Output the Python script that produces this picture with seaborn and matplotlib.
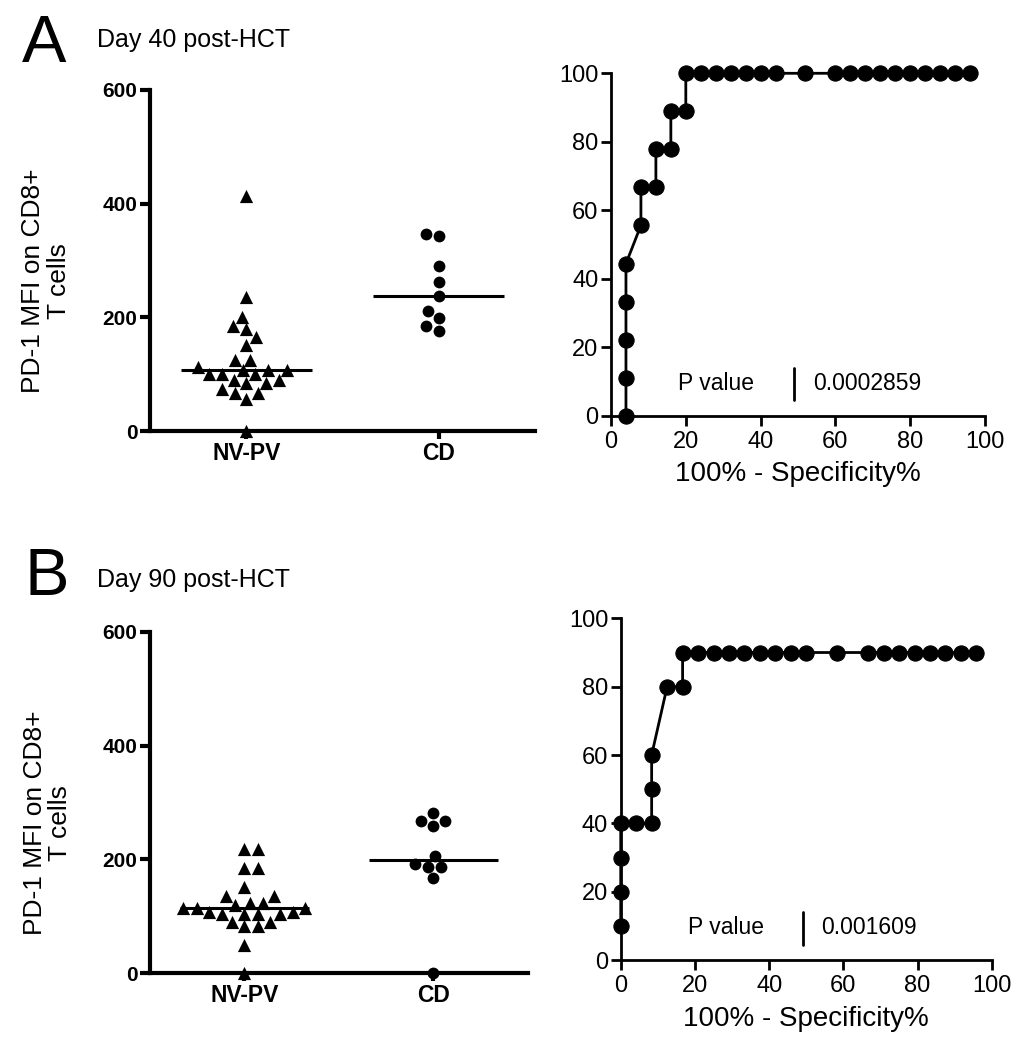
import matplotlib
matplotlib.use("Agg")
import matplotlib.pyplot as plt
import seaborn as sns
import pandas as pd
import numpy as np

# PD-1 MFI values
nvpv_d40 = [414, 236, 201, 184, 180, 165, 151, 125, 125, 113, 107, 107, 107,
            100, 100, 100, 90, 90, 84, 84, 74, 67, 67, 56, 0]
cd_d40 = [346, 343, 291, 263, 238, 211, 198, 184, 176]
nvpv_d90 = [219, 219, 185, 185, 152, 136, 136, 124, 124, 120, 114, 114, 114,
            108, 108, 104, 104, 104, 104, 90, 90, 82, 82, 49, 0]
cd_d90 = [282, 268, 268, 259, 206, 192, 187, 187, 167, 0]
groups = ['NV-PV', 'CD']

# ROC curves (100% - specificity, sensitivity)
roc_x_d40 = [4, 4, 4, 4, 4, 8, 8, 12, 12, 16, 16, 20, 20, 24, 28, 32, 36, 40, 44,
             52, 60, 64, 68, 72, 76, 80, 84, 88, 92, 96]
roc_y_d40 = [0, 11.1, 22.2, 33.3, 44.4, 55.6, 66.7, 66.7, 77.8, 77.8, 88.9, 88.9,
             100, 100, 100, 100, 100, 100, 100, 100, 100, 100, 100, 100, 100, 100,
             100, 100, 100, 100]
roc_x_d90 = [0, 0, 0, 0, 4.17, 8.33, 8.33, 8.33, 12.5, 16.67, 16.67, 20.83, 25,
             29.17, 33.33, 37.5, 41.67, 45.83, 50, 58.33, 66.67, 70.83, 75, 79.17,
             83.33, 87.5, 91.67, 95.83]
roc_y_d90 = [10, 20, 30, 40, 40, 40, 50, 60, 80, 80, 90, 90, 90, 90, 90, 90, 90,
             90, 90, 90, 90, 90, 90, 90, 90, 90, 90, 90]
pvals = ['0.0002859', '0.001609']

sns.set_style('white')
plt.rcParams['font.family'] = ['Liberation Sans', 'DejaVu Sans']
plt.rcParams.update({'text.color': 'black', 'axes.labelcolor': 'black',
                     'xtick.color': 'black', 'ytick.color': 'black',
                     'axes.edgecolor': 'black'})

fig = plt.figure(figsize=(10.25, 10.5), dpi=100)
swarms = []  # (collection, final marker size)


def dot_panel(ax, nvpv, cd):
    for name, vals, mk, ms in [('NV-PV', nvpv, '^', 9.5), ('CD', cd, 'o', 8.5)]:
        df = pd.DataFrame({'group': [name] * len(vals), 'mfi': vals})
        n0 = len(ax.collections)
        sns.swarmplot(data=df, x='group', y='mfi', order=groups, marker=mk,
                      color='black', size=9, ax=ax, clip_on=False, zorder=5)
        for pc in ax.collections[n0:]:
            swarms.append((pc, ms))
        i = groups.index(name)
        ax.hlines(np.median(vals), i - 0.34, i + 0.34, color='black', lw=2.2, zorder=4)
    ax.set_xlim(-0.5, 1.5)
    ax.set_ylim(0, 600)
    ax.set_yticks([0, 200, 400, 600])
    sns.despine(ax=ax)
    for s in ['left', 'bottom']:
        ax.spines[s].set_linewidth(3)
    ax.tick_params(axis='y', length=7, width=3, labelsize=15, pad=2, left=True)
    ax.tick_params(axis='x', length=6, width=3, labelsize=16.5, pad=2, bottom=True)
    for t in ax.get_xticklabels() + ax.get_yticklabels():
        t.set_fontweight('bold')
    ax.set_xlabel('')
    ax.set_ylabel('PD-1 MFI on CD8+\nT cells', fontsize=19, linespacing=1.1)
    ax.yaxis.set_label_coords(-0.205, 0.44)


def roc_panel(ax, rx, ry, p):
    sns.lineplot(x=rx, y=ry, sort=False, estimator=None, marker='o', markersize=11,
                 color='black', linewidth=2, markeredgecolor='black', ax=ax,
                 clip_on=False, zorder=5)
    ax.set_xlim(0, 100)
    ax.set_ylim(0, 100)
    ax.set_xticks(range(0, 101, 20))
    ax.set_yticks(range(0, 101, 20))
    sns.despine(ax=ax)
    for s in ['left', 'bottom']:
        ax.spines[s].set_linewidth(2)
    ax.tick_params(length=7, width=2, labelsize=17, pad=4, left=True, bottom=True)
    ax.tick_params(axis='y', pad=2)
    ax.set_xlabel('100% - Specificity%', fontsize=20, labelpad=6)
    ax.set_ylabel('')
    ax.text(18, 9.5, 'P value', fontsize=16.5, va='center')
    ax.plot([49, 49], [4.5, 14], color='black', lw=2)
    ax.text(54, 9.5, p, fontsize=16.5, va='center')


ax1 = fig.add_axes([0.1463, 0.5895, 0.3756, 0.3248])
dot_panel(ax1, nvpv_d40, cd_d40)
ax2 = fig.add_axes([0.5961, 0.6041, 0.3649, 0.3261])
roc_panel(ax2, roc_x_d40, roc_y_d40, pvals[0])
ax3 = fig.add_axes([0.1463, 0.0733, 0.3688, 0.3248])
dot_panel(ax3, nvpv_d90, cd_d90)
ax4 = fig.add_axes([0.6056, 0.0857, 0.3620, 0.3254])
roc_panel(ax4, roc_x_d90, roc_y_d90, pvals[1])

fig.text(0.021, 0.941, 'A', fontsize=48)
fig.text(0.095, 0.9555, 'Day 40 post-HCT', fontsize=18)
fig.text(0.024, 0.433, 'B', fontsize=48)
fig.text(0.095, 0.4413, 'Day 90 post-HCT', fontsize=18)

# fix the swarm layout, then draw the markers at their final size
fig.canvas.draw()
for pc, ms in swarms:
    if 'draw' in pc.__dict__:
        del pc.draw
    pc.set_sizes([ms ** 2])

fig.savefig('out.png', dpi=100)
